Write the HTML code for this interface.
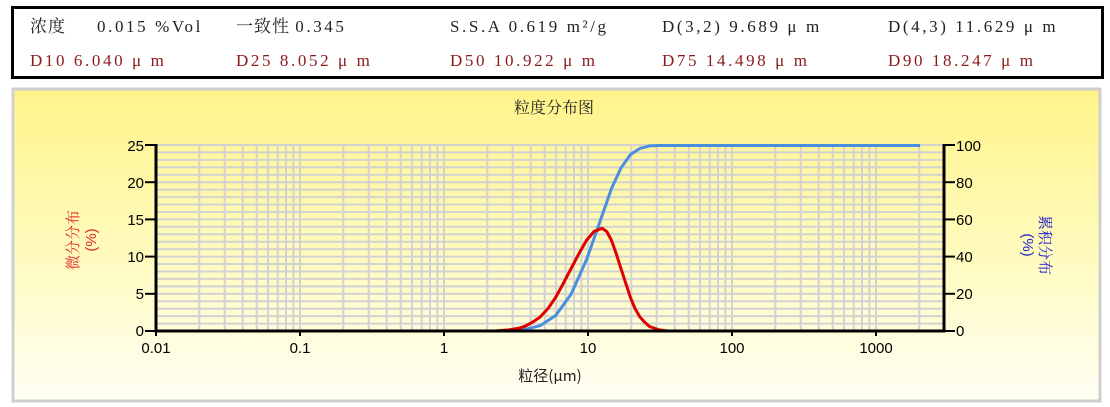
<!DOCTYPE html>
<html><head><meta charset="utf-8"><style>
html,body{margin:0;padding:0;background:#fff;width:1110px;height:407px;overflow:hidden}
svg{display:block}
.t{font-family:"Liberation Serif","Noto Serif CJK SC",serif;font-size:17px}
.a{font-family:"Liberation Sans",Arial,sans-serif;font-size:15px;fill:#000}
</style></head><body>
<svg width="1110" height="407" viewBox="0 0 1110 407" xmlns="http://www.w3.org/2000/svg">
<defs>
<linearGradient id="bg" x1="0" y1="0" x2="0" y2="1">
<stop offset="0" stop-color="#fff48a"/><stop offset="0.55" stop-color="#fffbc0"/><stop offset="1" stop-color="#fffff4"/>
</linearGradient>
<g id="dec" stroke="#d2d2d2" stroke-width="2">
<line x1="43.3" y1="145" x2="43.3" y2="331"/><line x1="68.7" y1="145" x2="68.7" y2="331"/>
<line x1="86.7" y1="145" x2="86.7" y2="331"/><line x1="100.7" y1="145" x2="100.7" y2="331"/>
<line x1="112.1" y1="145" x2="112.1" y2="331"/><line x1="121.7" y1="145" x2="121.7" y2="331"/>
<line x1="130" y1="145" x2="130" y2="331"/><line x1="137.4" y1="145" x2="137.4" y2="331"/>
<line x1="144" y1="145" x2="144" y2="331"/>
</g>
</defs>
<!-- info box -->
<rect x="12.5" y="7.5" width="1090" height="70" fill="#fff" stroke="#000" stroke-width="3"/>
<g class="t" fill="#222">
<text x="30" y="32" letter-spacing="1">浓度</text><text x="97" y="32" letter-spacing="2.6">0.015 %Vol</text>
<text x="236" y="32" letter-spacing="1">一致性 <tspan letter-spacing="2.6">0.345</tspan></text>
<text x="450" y="32" letter-spacing="2.6">S.S.A  0.619 m²/g</text>
<text x="662" y="32" letter-spacing="2.6">D(3,2)  9.689 μ m</text>
<text x="888" y="32" letter-spacing="2.6">D(4,3)  11.629 μ m</text>
</g>
<g class="t" fill="#8b1a1a" letter-spacing="2.6">
<text x="30" y="66">D10 6.040  μ m</text>
<text x="236" y="66">D25 8.052  μ m</text>
<text x="450" y="66">D50 10.922  μ m</text>
<text x="662" y="66">D75 14.498  μ m</text>
<text x="888" y="66">D90 18.247  μ m</text>
</g>
<!-- panel -->
<rect x="13" y="89" width="1087" height="312" fill="url(#bg)" stroke="#cfcfcf" stroke-width="3"/>
<text x="554" y="113" text-anchor="middle" font-family="Noto Serif CJK SC,serif" font-size="16" fill="#222">粒度分布图</text>
<g stroke="#d2d2d2" stroke-width="2">
<line x1="156" x2="945" y1="145" y2="145"/><line x1="156" x2="945" y1="152.4" y2="152.4"/><line x1="156" x2="945" y1="159.9" y2="159.9"/><line x1="156" x2="945" y1="167.3" y2="167.3"/><line x1="156" x2="945" y1="174.8" y2="174.8"/><line x1="156" x2="945" y1="182.2" y2="182.2"/><line x1="156" x2="945" y1="189.6" y2="189.6"/><line x1="156" x2="945" y1="197.1" y2="197.1"/><line x1="156" x2="945" y1="204.5" y2="204.5"/><line x1="156" x2="945" y1="212" y2="212"/><line x1="156" x2="945" y1="219.4" y2="219.4"/><line x1="156" x2="945" y1="226.8" y2="226.8"/><line x1="156" x2="945" y1="234.3" y2="234.3"/><line x1="156" x2="945" y1="241.7" y2="241.7"/><line x1="156" x2="945" y1="249.2" y2="249.2"/><line x1="156" x2="945" y1="256.6" y2="256.6"/><line x1="156" x2="945" y1="264" y2="264"/><line x1="156" x2="945" y1="271.5" y2="271.5"/><line x1="156" x2="945" y1="278.9" y2="278.9"/><line x1="156" x2="945" y1="286.4" y2="286.4"/><line x1="156" x2="945" y1="293.8" y2="293.8"/><line x1="156" x2="945" y1="301.2" y2="301.2"/><line x1="156" x2="945" y1="308.7" y2="308.7"/><line x1="156" x2="945" y1="316.1" y2="316.1"/><line x1="156" x2="945" y1="323.6" y2="323.6"/>
</g>
<use href="#dec" x="156"/><use href="#dec" x="300"/><use href="#dec" x="444"/><use href="#dec" x="588"/><use href="#dec" x="732"/>
<g stroke="#d2d2d2" stroke-width="2"><line x1="919.3" y1="145" x2="919.3" y2="331"/></g>
<!-- curves -->
<polyline fill="none" stroke="#4a8ee0" stroke-width="3" stroke-linejoin="round" points="208,331 495,331 509,330.7 524.5,329.6 540,325.7 555.5,315.6 571,294.4 586.5,259.8 594,238.5 602,215.7 611.5,188.5 621,167.9 630.5,154.5 640,148.4 649.5,145.9 659,145.5 920,145.5"/>
<polyline fill="none" stroke="#e00000" stroke-width="3" stroke-linejoin="round" points="208,331 495,331 509,329.9 518,328.4 524.5,326.5 532,322.5 540,317.1 548,308.5 555.5,297.6 563,284 571,268.7 579,253.5 586.5,240.4 594,231.5 602,228.3 606.75,231.5 611.5,240.4 616,253 621,268.7 626,284 630.5,297.6 635,308.5 640,317.1 645,322.5 649.5,326.5 659,329.9 668,331 920,331"/>
<!-- axes -->
<g stroke="#000" stroke-width="3" fill="none">
<line x1="156" y1="144" x2="156" y2="332.5"/>
<line x1="944" y1="144" x2="944" y2="332.5"/>
<line x1="154.5" y1="331" x2="945.5" y2="331"/>
</g>
<g stroke="#000" stroke-width="2">
<line x1="145" x2="156" y1="145" y2="145"/><line x1="145" x2="156" y1="182.2" y2="182.2"/><line x1="145" x2="156" y1="219.4" y2="219.4"/><line x1="145" x2="156" y1="256.6" y2="256.6"/><line x1="145" x2="156" y1="293.8" y2="293.8"/><line x1="145" x2="156" y1="331" y2="331"/>
<line x1="944" x2="955" y1="145" y2="145"/><line x1="944" x2="955" y1="182.2" y2="182.2"/><line x1="944" x2="955" y1="219.4" y2="219.4"/><line x1="944" x2="955" y1="256.6" y2="256.6"/><line x1="944" x2="955" y1="293.8" y2="293.8"/><line x1="944" x2="955" y1="331" y2="331"/>
<line x1="156" x2="156" y1="331" y2="336"/><line x1="300" x2="300" y1="331" y2="336"/><line x1="444" x2="444" y1="331" y2="336"/><line x1="588" x2="588" y1="331" y2="336"/><line x1="732" x2="732" y1="331" y2="336"/><line x1="876" x2="876" y1="331" y2="336"/>
</g>
<g class="a" text-anchor="end">
<text x="144" y="151">25</text><text x="144" y="188">20</text><text x="144" y="225">15</text><text x="144" y="262">10</text><text x="144" y="299">5</text><text x="144" y="336">0</text>
</g>
<g class="a">
<text x="956" y="151">100</text><text x="956" y="188">80</text><text x="956" y="225">60</text><text x="956" y="262">40</text><text x="956" y="299">20</text><text x="956" y="336">0</text>
</g>
<g class="a" text-anchor="middle">
<text x="156" y="353">0.01</text><text x="300" y="353">0.1</text><text x="444" y="353">1</text><text x="588" y="353">10</text><text x="732" y="353">100</text><text x="876" y="353">1000</text>
</g>
<text x="550" y="381" text-anchor="middle" font-family="Noto Sans CJK SC,sans-serif" font-size="15" fill="#222">粒径(μm)</text>
<g transform="translate(78,240) rotate(-90)" fill="#e02020" font-size="15" text-anchor="middle">
<text x="0" y="0" font-family="Noto Serif CJK SC,serif">微分分布</text>
<text x="0" y="18" font-family="Liberation Sans,sans-serif">(%)</text>
</g>
<g transform="translate(1040,245) rotate(90)" fill="#2020d0" font-size="15" text-anchor="middle">
<text x="0" y="0" font-family="Noto Serif CJK SC,serif">累积分布</text>
<text x="0" y="17" font-family="Liberation Sans,sans-serif">(%)</text>
</g>
</svg>
</body></html>
